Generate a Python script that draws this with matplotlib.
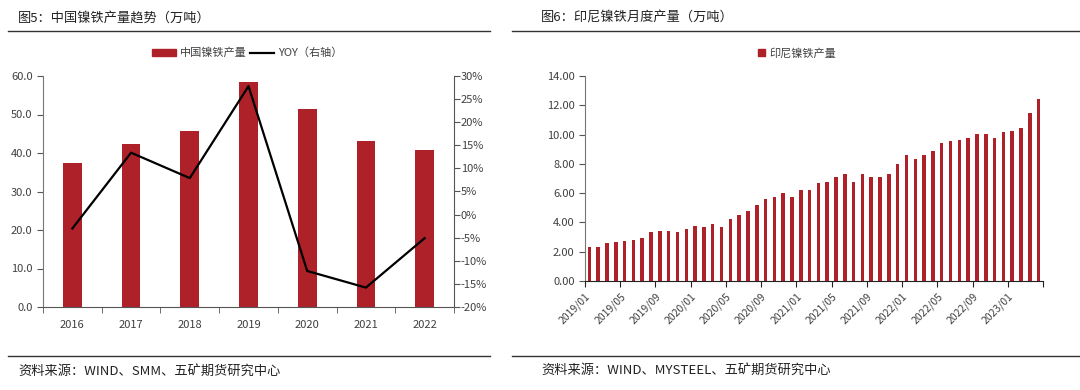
import numpy as np
import matplotlib
matplotlib.use("Agg")
import matplotlib.pyplot as plt
from matplotlib.lines import Line2D
from matplotlib.patches import Patch

plt.rcParams['font.family'] = ['Noto Sans CJK SC', 'DejaVu Sans']

# left chart data
years = ['2016', '2017', '2018', '2019', '2020', '2021', '2022']
cn_output = [37.5, 42.4, 45.6, 58.5, 51.3, 43.2, 40.9]
cn_yoy = [-3.0, 13.4, 7.9, 27.8, -12.2, -15.8, -5.1]

# right chart data (2019/01 - 2023/04)
months = [f"{y}/{m:02d}" for y in range(2019, 2024) for m in range(1, 13)][:52]
indo_output = [2.34, 2.34, 2.61, 2.68, 2.75, 2.80, 2.93, 3.32, 3.39, 3.39, 3.32, 3.57,
               3.77, 3.70, 3.90, 3.70, 4.23, 4.48, 4.75, 5.20, 5.59, 5.77, 6.02, 5.77,
               6.23, 6.23, 6.68, 6.75, 7.07, 7.32, 6.75, 7.32, 7.07, 7.07, 7.32, 8.02,
               8.61, 8.30, 8.61, 8.89, 9.45, 9.59, 9.66, 9.77, 10.05, 10.05, 9.77, 10.16,
               10.23, 10.48, 11.45, 12.43]

RED = '#AE2129'
TXT = '#404040'
W, H = 1080, 390

fig = plt.figure(figsize=(W / 100, H / 100), dpi=100)


def px_axes(x0, y0, x1, y1):
    return fig.add_axes([x0 / W, 1 - y1 / H, (x1 - x0) / W, (y1 - y0) / H])


def hline(x0, x1, y):
    fig.add_artist(Line2D([x0 / W, x1 / W], [1 - y / H, 1 - y / H], color='#333333', lw=1.0))


# ---- left panel ----
fig.text(18 / W, 1 - 18 / H, '图5：中国镍铁产量趋势（万吨）', fontsize=9.5, va='center', color='#222222')
hline(8, 490, 31)
hline(8, 490, 356)
fig.text(18 / W, 1 - 371 / H, '资料来源：WIND、SMM、五矿期货研究中心', fontsize=9.5, va='center', color='#222222')

ax1 = px_axes(43, 76, 454, 307)
x = np.arange(len(years))
ax1.bar(x, cn_output, width=0.32, color=RED)
ax1.set_xlim(-0.5, len(years) - 0.5)
ax1.set_ylim(0, 60)
ax1.set_yticks(np.arange(0, 61, 10))
ax1.set_yticklabels([f"{v:.1f}" for v in np.arange(0, 61, 10)])
ax1.set_xticks(x)
ax1.set_xticklabels(years)
ax1.set_xticks(np.arange(-0.5, len(years)), minor=True)
ax1.tick_params(axis='x', which='major', length=0, pad=9, labelsize=8, labelcolor=TXT)
ax1.tick_params(axis='x', which='minor', length=4, direction='out', color='#555555')
ax1.tick_params(axis='y', length=4, direction='out', labelsize=8, labelcolor=TXT, color='#555555')
ax1.spines['top'].set_visible(False)
ax1.spines['right'].set_visible(False)
ax1.spines['left'].set_color('#777777')
ax1.spines['bottom'].set_color('#555555')

ax1r = ax1.twinx()
ax1r.plot(x, cn_yoy, color='black', lw=1.6)
ax1r.set_ylim(-20, 30)
ax1r.set_yticks(np.arange(-20, 31, 5))
ax1r.set_yticklabels([f"{v}%" for v in range(-20, 31, 5)])
ax1r.tick_params(axis='y', length=4, direction='out', labelsize=8, labelcolor=TXT, color='#555555', pad=1)
ax1r.spines['top'].set_visible(False)
ax1r.spines['left'].set_visible(False)
ax1r.spines['bottom'].set_visible(False)
ax1r.spines['right'].set_color('#555555')

handles = [Patch(color=RED), Line2D([0], [0], color='black', lw=1.6)]
fig.legend(handles, ['中国镍铁产量', 'YOY（右轴）'], loc='center', bbox_to_anchor=(247 / W, 1 - 53 / H),
           ncol=2, frameon=False, fontsize=8, handlelength=2.2, handleheight=0.5,
           columnspacing=0.3, handletextpad=0.3, labelcolor=TXT)

# ---- right panel ----
fig.text(541 / W, 1 - 18 / H, '图6：印尼镍铁月度产量（万吨）', fontsize=9.5, va='center', color='#222222')
hline(512, 1080, 31)
hline(512, 1080, 356)
fig.text(541 / W, 1 - 370 / H, '资料来源：WIND、MYSTEEL、五矿期货研究中心', fontsize=9.5, va='center', color='#222222')

ax2 = px_axes(585, 76, 1043, 281)
xm = np.arange(len(months))
ax2.bar(xm, indo_output, width=0.4, color=RED, label='印尼镍铁产量')
ax2.set_xlim(-0.5, len(months) - 0.5)
ax2.set_ylim(0, 14)
ax2.set_yticks(np.arange(0, 15, 2))
ax2.set_yticklabels([f"{v:.2f}" for v in np.arange(0, 15, 2)])
tick_idx = list(range(0, len(months), 4))
ax2.set_xticks([i - 0.5 for i in tick_idx] + [len(months) - 0.5])
ax2.set_xticklabels([months[i] for i in tick_idx] + [''], rotation=45, ha='right',
                    rotation_mode='anchor', fontsize=7.5, color=TXT)
ax2.tick_params(axis='x', length=4, direction='out', color='#222222', pad=3)
ax2.tick_params(axis='y', length=4, direction='out', labelsize=8, labelcolor=TXT, color='#555555')
ax2.spines['top'].set_visible(False)
ax2.spines['right'].set_visible(False)
ax2.spines['left'].set_color('#777777')
ax2.spines['bottom'].set_color('#222222')

fig.legend(handles=[Patch(color=RED)], labels=['印尼镍铁产量'], loc='center',
           bbox_to_anchor=(797 / W, 1 - 53 / H), frameon=False, fontsize=8,
           handlelength=0.7, handleheight=0.7, handletextpad=0.4, labelcolor=TXT)

fig.savefig('out.png', dpi=100)
